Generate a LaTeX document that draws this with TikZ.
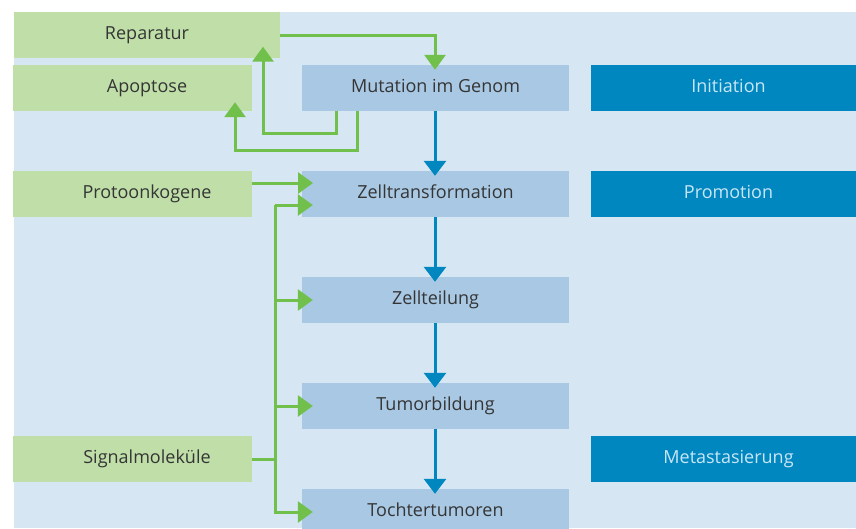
\documentclass[tikz,border=0pt]{standalone}
\usepackage{fontspec}
\setmainfont{Open Sans}
\usetikzlibrary{arrows.meta}
\definecolor{bgc}{HTML}{D6E6F3}
\definecolor{lblue}{HTML}{A8C8E4}
\definecolor{dblue}{HTML}{0087BF}
\definecolor{lgreen}{HTML}{C0DFA8}
\definecolor{gline}{HTML}{72C04C}
\definecolor{bline}{HTML}{0087BF}
\definecolor{txt}{HTML}{353535}
\definecolor{ltxt}{HTML}{C9E6F7}
\tikzset{
  box/.style={inner sep=0pt, minimum height=46pt, text height=13pt, text depth=4pt},
  gbox/.style={box, fill=lgreen},
  bbox/.style={box, fill=lblue, minimum width=267pt, text=txt, font=\fontsize{18}{20}\selectfont},
  dbox/.style={box, fill=dblue, minimum width=275pt, text=ltxt, font=\fontsize{18}{20}\selectfont},
  gtext/.style={inner sep=0pt, text=txt, font=\fontsize{18}{20}\selectfont, text height=13pt, text depth=4pt},
  garrow/.style={draw=gline, line width=3pt, line join=miter, -{Triangle[width=21pt,length=15pt]}, gline},
  gline/.style={draw=gline, line width=3pt, line join=miter},
  barrow/.style={draw=bline, line width=3pt, -{Triangle[width=22pt,length=15pt]}, bline},
}
\begin{document}
\begin{tikzpicture}[x=1pt,y=-1pt]
\useasboundingbox (0,0) rectangle (856,528);
\fill[bgc] (14,12) rectangle (856,528);

% green boxes
\node[gbox, minimum width=266pt] (rep) at (147,34.5) {};
\node[gbox, minimum width=239pt] (apo) at (132.5,88) {};
\node[gbox, minimum width=239pt] (pro) at (132.5,194) {};
\node[gbox, minimum width=239pt] (sig) at (132.5,459) {};
\node[gtext] (rept) at (147,34.5) {Reparatur};
\node[gtext] (apot) at (147,88) {Apoptose};
\node[gtext] (prot) at (147,194) {Protoonkogene};
\node[gtext] (sigt) at (147,459) {Signalmoleküle};

% blue boxes
\node[bbox] (mut) at (435.5,88) {Mutation im Genom};
\node[bbox] (zt) at (435.5,194) {Zelltransformation};
\node[bbox] (zteil) at (435.5,300) {Zellteilung};
\node[bbox] (tum) at (435.5,406) {Tumorbildung};
\node[bbox] (toch) at (435.5,512) {Tochtertumoren};

% dark boxes
\node[dbox] (ini) at (728.5,88) {Initiation};
\node[dbox] (prom) at (728.5,194) {Promotion};
\node[dbox] (meta) at (728.5,459) {Metastasierung};

% blue arrows
\draw[barrow] (mut.south -| 435,0) -- ([yshift=-5pt]zt.north -| 435,0);
\draw[barrow] (zt.south -| 435,0) -- ([yshift=-5pt]zteil.north -| 435,0);
\draw[barrow] (zteil.south -| 435,0) -- ([yshift=-5pt]tum.north -| 435,0);
\draw[barrow] (tum.south -| 435,0) -- ([yshift=-5pt]toch.north -| 435,0);

% green connectors
\coordinate (c1) at (435,35);
\draw[garrow] (rep.east |- c1) -- (c1) -- ([yshift=-5pt]mut.north -| c1);
\coordinate (c2) at (336,133);
\coordinate (c3) at (263,133);
\draw[garrow] (mut.south -| c2) -- (c2) -- (c3) -- ([yshift=11pt]rep.south -| c3);
\coordinate (c4) at (357,150);
\coordinate (c5) at (235,150);
\draw[garrow] (mut.south -| c4) -- (c4) -- (c5) -- ([yshift=9pt]apo.south -| c5);
\coordinate (c6) at (313,183);
\draw[garrow] (pro.east |- c6) -- (c6);
\coordinate (v1) at (275,205);
\coordinate (v2) at (275,300);
\coordinate (v3) at (275,406);
\coordinate (v4) at (275,512);
\coordinate (vs) at (275,459);
\draw[gline] (v1) -- (v4);
\draw[garrow] (v1) -- ([xshift=11pt]zt.west |- v1);
\draw[garrow] (v2) -- ([xshift=11pt]zteil.west |- v2);
\draw[garrow] (v3) -- ([xshift=11pt]tum.west |- v3);
\draw[garrow] ([xshift=-1.5pt]v4) -- ([xshift=11pt]toch.west |- v4);
\draw[gline] (sig.east |- vs) -- (vs);
\end{tikzpicture}
\end{document}
